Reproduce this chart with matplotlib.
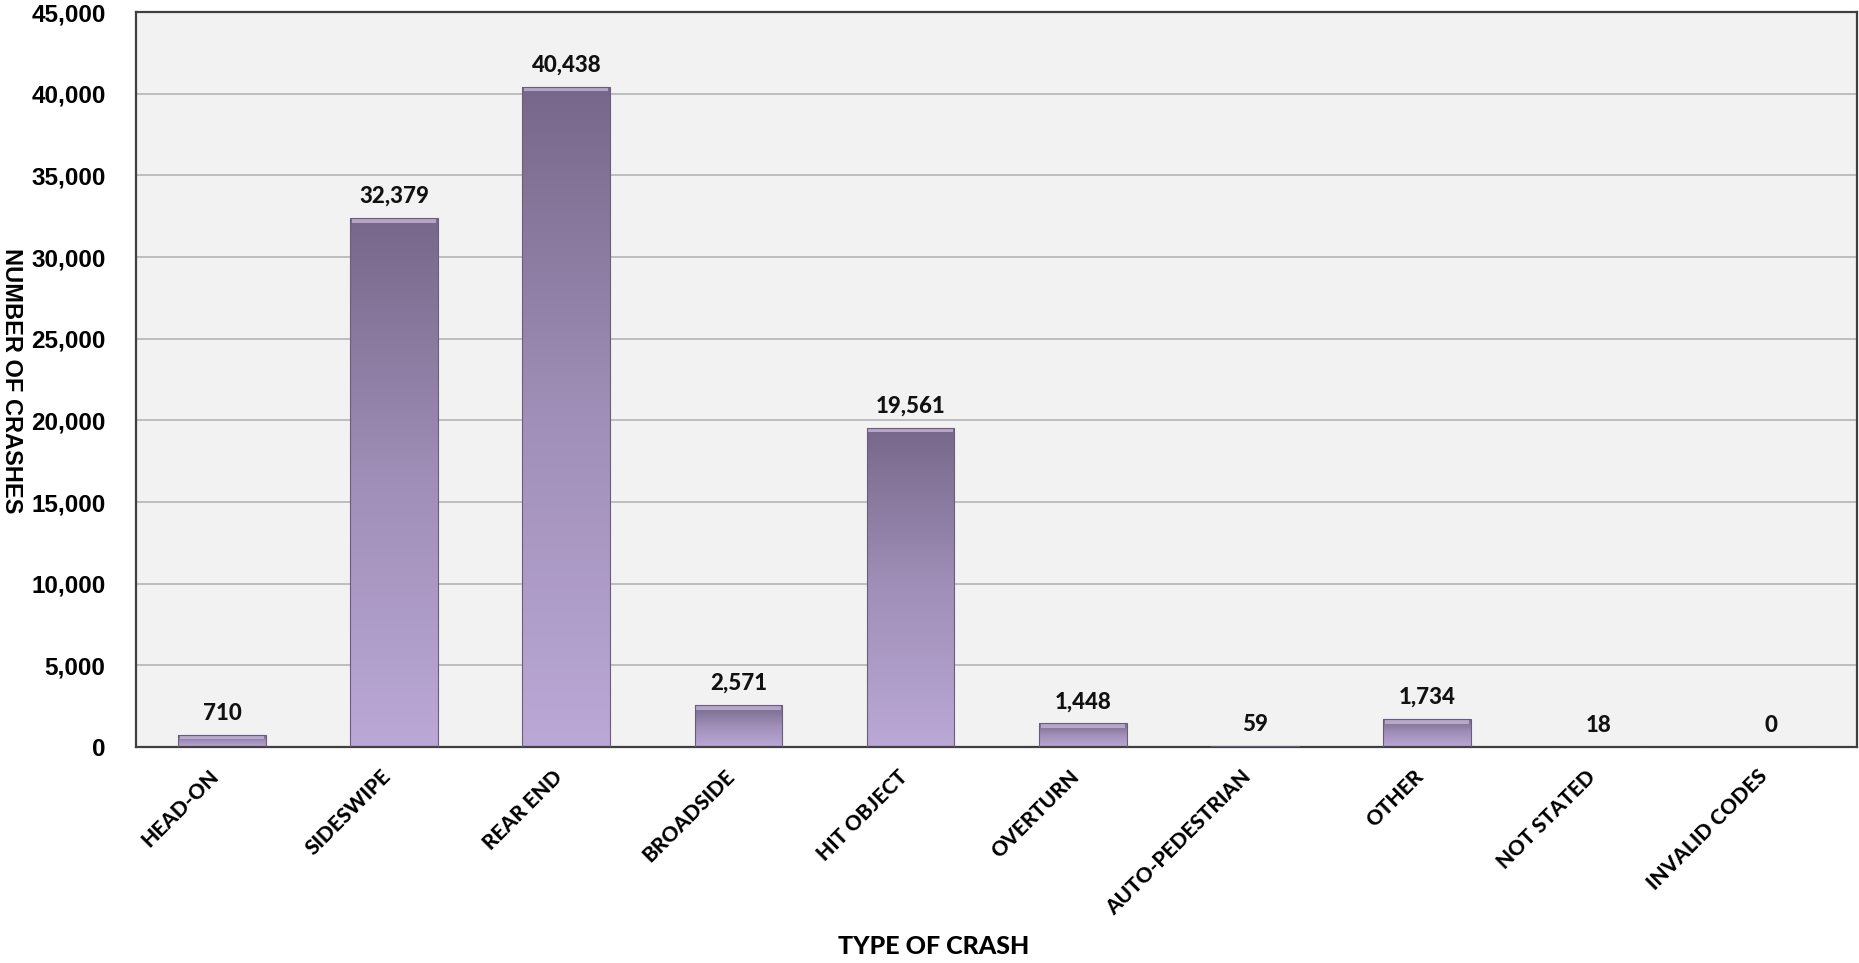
import numpy as np
import matplotlib.pyplot as plt
from matplotlib.colors import LinearSegmentedColormap

categories = ['HEAD-ON', 'SIDESWIPE', 'REAR END', 'BROADSIDE', 'HIT OBJECT',
              'OVERTURN', 'AUTO-PEDESTRIAN', 'OTHER', 'NOT STATED', 'INVALID CODES']
crashes = [710, 32379, 40438, 2571, 19561, 1448, 59, 1734, 18, 0]
yticks = [0, 5000, 10000, 15000, 20000, 25000, 30000, 35000, 40000, 45000]

gothic = 'Lato'
arial = 'Liberation Sans'

fig = plt.figure(figsize=(18.59, 9.63), dpi=100)
ax = fig.add_axes([0.0732, 0.2243, 0.9258, 0.7632])
ax.set_facecolor('#f2f2f2')

x = np.arange(len(categories))
bars = ax.bar(x, crashes, width=0.51, color='none', edgecolor='#6a5d7c',
              linewidth=0.8, zorder=3)

# vertical gradient for each bar, dark at the top, light at the bottom
cmap = LinearSegmentedColormap.from_list('bar', ['#bba8d6', '#a08fb8', '#76688a'])
grad = np.linspace(0, 1, 256).reshape(-1, 1)
for b in bars:
    h = b.get_height()
    if h <= 0:
        continue
    x0 = b.get_x()
    im = ax.imshow(grad, cmap=cmap, origin='lower', aspect='auto',
                   extent=(x0, x0 + b.get_width(), 0, h), zorder=2.5)
    im.set_clip_path(b)
    # light bevel along the top edge
    bev = min(300, h * 0.35)
    ax.bar(b.get_x() + b.get_width() / 2, bev, bottom=h - bev, width=b.get_width() * 0.96,
           color='#cfc0e2', alpha=0.7, linewidth=0, zorder=2.7)

for xi, v in zip(x, crashes):
    ax.annotate('{:,}'.format(v), xy=(xi, v), xytext=(0, 8),
                textcoords='offset points', ha='center', va='bottom',
                fontsize=16, fontweight='black', family=gothic, color='#111111')

ax.set_xlim(-0.5, len(categories) - 0.5)
ax.set_ylim(0, 45000)
ax.set_yticks(yticks)
ax.set_yticklabels(['{:,}'.format(t) for t in yticks], fontsize=17.5,
                   fontweight='bold', family=arial)
ax.set_xticks(x)
ax.set_xticklabels(categories, rotation=45, ha='right', fontsize=15,
                   fontweight='black', family=gothic)
ax.tick_params(axis='both', length=0)
ax.tick_params(axis='y', pad=22)
ax.tick_params(axis='x', pad=14)
ax.yaxis.grid(True, color='#b4b4b4', linewidth=1.2, zorder=1)
ax.set_axisbelow(True)
for s in ax.spines.values():
    s.set_color('#404040')
    s.set_linewidth(1.6)

fig.text(0.006, 0.605, 'NUMBER OF CRASHES', rotation=270, ha='center', va='center',
         fontsize=17, fontweight='bold', family=arial)
fig.text(0.502, 0.017, 'TYPE OF CRASH', ha='center', va='center',
         fontsize=18, fontweight='black', family=gothic)

fig.savefig('out.png', dpi=100)
